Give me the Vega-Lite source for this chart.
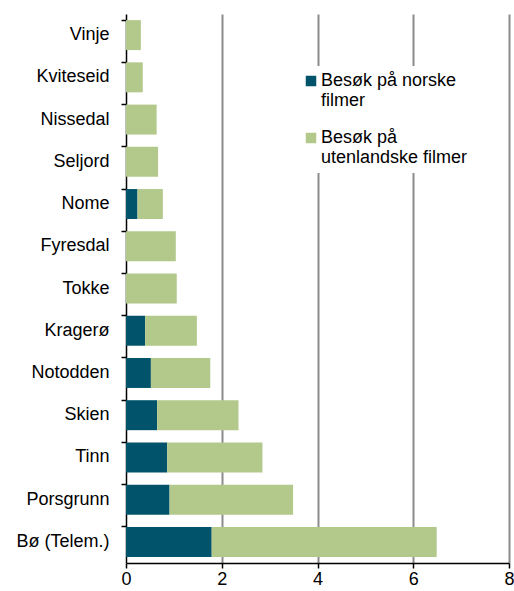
{
  "$schema": "https://vega.github.io/schema/vega-lite/v6.json",
  "width": 383,
  "height": 549,
  "autosize": {"type": "none"},
  "padding": {"left": 126, "top": 14, "right": 5, "bottom": 28},
  "background": "white",
  "config": {
    "view": {"stroke": null},
    "font": "Liberation Sans",
    "axis": {"labelFont": "Liberation Sans", "labelFontSize": 18, "labelColor": "#000000"},
    "legend": {"labelFont": "Liberation Sans", "labelFontSize": 18, "labelColor": "#000000"}
  },
  "data": {
    "values": [
      {"kommune": "Vinje", "type": "Besøk på norske filmer", "value": 0.0},
      {"kommune": "Vinje", "type": "Besøk på utenlandske filmer", "value": 0.31},
      {"kommune": "Kviteseid", "type": "Besøk på norske filmer", "value": 0.0},
      {"kommune": "Kviteseid", "type": "Besøk på utenlandske filmer", "value": 0.35},
      {"kommune": "Nissedal", "type": "Besøk på norske filmer", "value": 0.0},
      {"kommune": "Nissedal", "type": "Besøk på utenlandske filmer", "value": 0.64},
      {"kommune": "Seljord", "type": "Besøk på norske filmer", "value": 0.0},
      {"kommune": "Seljord", "type": "Besøk på utenlandske filmer", "value": 0.67},
      {"kommune": "Nome", "type": "Besøk på norske filmer", "value": 0.24},
      {"kommune": "Nome", "type": "Besøk på utenlandske filmer", "value": 0.53},
      {"kommune": "Fyresdal", "type": "Besøk på norske filmer", "value": 0.0},
      {"kommune": "Fyresdal", "type": "Besøk på utenlandske filmer", "value": 1.04},
      {"kommune": "Tokke", "type": "Besøk på norske filmer", "value": 0.0},
      {"kommune": "Tokke", "type": "Besøk på utenlandske filmer", "value": 1.06},
      {"kommune": "Kragerø", "type": "Besøk på norske filmer", "value": 0.40},
      {"kommune": "Kragerø", "type": "Besøk på utenlandske filmer", "value": 1.08},
      {"kommune": "Notodden", "type": "Besøk på norske filmer", "value": 0.52},
      {"kommune": "Notodden", "type": "Besøk på utenlandske filmer", "value": 1.24},
      {"kommune": "Skien", "type": "Besøk på norske filmer", "value": 0.65},
      {"kommune": "Skien", "type": "Besøk på utenlandske filmer", "value": 1.70},
      {"kommune": "Tinn", "type": "Besøk på norske filmer", "value": 0.86},
      {"kommune": "Tinn", "type": "Besøk på utenlandske filmer", "value": 1.99},
      {"kommune": "Porsgrunn", "type": "Besøk på norske filmer", "value": 0.91},
      {"kommune": "Porsgrunn", "type": "Besøk på utenlandske filmer", "value": 2.58},
      {"kommune": "Bø (Telem.)", "type": "Besøk på norske filmer", "value": 1.79},
      {"kommune": "Bø (Telem.)", "type": "Besøk på utenlandske filmer", "value": 4.70}
    ]
  },
  "mark": {"type": "bar"},
  "encoding": {
    "y": {
      "field": "kommune",
      "type": "nominal",
      "sort": null,
      "title": null,
      "scale": {"paddingInner": 0.29, "paddingOuter": 0.145},
      "axis": {
        "bandPosition": 0,
        "domainColor": "#000000",
        "domainWidth": 1.5,
        "tickColor": "#000000",
        "tickWidth": 1.5,
        "tickSize": 5,
        "labelPadding": 12,
        "grid": false
      }
    },
    "x": {
      "field": "value",
      "type": "quantitative",
      "stack": "zero",
      "title": null,
      "scale": {"domain": [0, 8], "nice": false},
      "axis": {
        "values": [0, 2, 4, 6, 8],
        "domainColor": "#000000",
        "domainWidth": 1.5,
        "tickColor": "#000000",
        "tickWidth": 1.5,
        "tickSize": 5,
        "labelPadding": 2,
        "labelFlush": false,
        "grid": true,
        "gridColor": "#8c8c8c",
        "gridWidth": 2,
        "gridOpacity": {"expr": "datum.value == 0 ? 0 : 1"}
      }
    },
    "color": {
      "field": "type",
      "type": "nominal",
      "title": null,
      "scale": {
        "domain": ["Besøk på norske filmer", "Besøk på utenlandske filmer"],
        "range": ["#00536b", "#b3c98b"]
      },
      "legend": {
        "orient": "none",
        "legendX": 170,
        "legendY": 52,
        "fillColor": "white",
        "padding": 6,
        "symbolType": "square",
        "symbolSize": 110,
        "symbolStrokeWidth": 0,
        "symbolOpacity": 1,
        "labelBaseline": "middle",
        "labelLimit": 300,
        "labelOffset": 1,
        "rowPadding": 19,
        "labelExpr": "datum.label == 'Besøk på norske filmer' ? ['Besøk på norske', 'filmer'] : ['Besøk på', 'utenlandske filmer']"
      }
    },
    "order": {"field": "type", "sort": "ascending"}
  }
}
